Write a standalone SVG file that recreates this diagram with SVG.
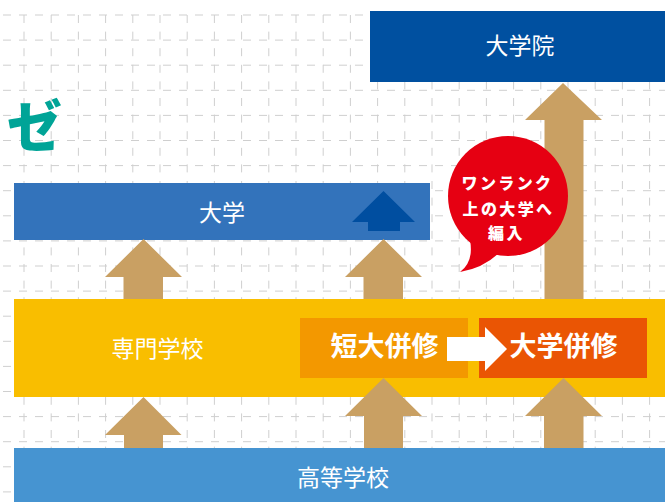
<svg xmlns="http://www.w3.org/2000/svg" width="665" height="502" viewBox="0 0 665 502">
  <style>
    .grid { fill: none; stroke: #cfcfcf; stroke-width: 1; }
    .lbl { font-family: "Noto Sans CJK JP", "Noto Sans", sans-serif; fill: #ffffff; font-size: 23px; text-anchor: middle; }
    .bold { font-weight: bold; font-size: 27px; }
    .bub { font-family: "Noto Sans CJK JP", "Noto Sans", sans-serif; fill: #ffffff; font-weight: 900; font-size: 16px; letter-spacing: 2.4px; text-anchor: middle; }
    .tan { fill: #c9a063; }
  </style>
  <rect x="0" y="0" width="665" height="502" fill="#ffffff"/>
  <g id="grid">
    <path class="grid" stroke-dasharray="8 8" stroke-dashoffset="13" d="M0 15H665M0 40.1H665M0 65.2H665M0 90.3H665M0 115.4H665M0 140.5H665M0 165.6H665M0 190.7H665M0 215.8H665M0 240.9H665M0 266H665M0 291.1H665M0 316.2H665M0 341.3H665M0 366.4H665M0 391.5H665M0 416.6H665M0 441.7H665M0 466.8H665M0 491.9H665"/>
    <path class="grid" stroke-dasharray="8 8.6" d="M24 15V502M51.2 15V502M78.4 15V502M105.6 15V502M132.8 15V502M160 15V502M187.2 15V502M214.4 15V502M241.6 15V502M268.8 15V502M296 15V502M323.2 15V502M350.4 15V502M377.6 15V502M404.8 15V502M432 15V502M459.2 15V502M486.4 15V502M513.6 15V502M540.8 15V502M568 15V502M595.2 15V502M622.4 15V502M649.6 15V502"/>
  </g>
  <g id="logo">
    <text x="7" y="146" font-family="Noto Sans CJK JP, sans-serif" font-weight="900" font-size="55" fill="#00a497">ゼ</text>
  </g>
  <g id="nodes">
    <g id="daigakuin">
      <rect x="370" y="11" width="295" height="71" fill="#0050a0"/>
      <text class="lbl" x="520" y="53.7">大学院</text>
    </g>
    <g id="daigaku">
      <rect x="14" y="183" width="416" height="57" fill="#3373bb"/>
      <text class="lbl" x="222" y="220.7">大学</text>
    </g>
    <g id="senmon">
      <rect x="14" y="299" width="651" height="98" fill="#f9be00"/>
      <text class="lbl" x="157.5" y="356.7">専門学校</text>
    </g>
    <g id="tandai-heishu">
      <rect x="300" y="318" width="168" height="60" fill="#f39800"/>
      <text class="lbl bold" x="384.5" y="356">短大併修</text>
    </g>
    <g id="daigaku-heishu">
      <rect x="479" y="318" width="168" height="60" fill="#ea5504"/>
      <text class="lbl bold" x="563.5" y="356">大学併修</text>
    </g>
    <g id="koutou">
      <rect x="14" y="448" width="651" height="54" fill="#4694d1"/>
      <text class="lbl" x="343" y="486">高等学校</text>
    </g>
  </g>
  <g id="connectors">
    <polygon class="tan" points="563,83 602,120 583.5,120 583.5,299 544.5,299 544.5,120 525,120"/>
    <polygon class="tan" points="143.5,239 182,277 163,277 163,299 123.5,299 123.5,277 105,277"/>
    <polygon class="tan" points="383.5,239 422,277 403,277 403,299 363.5,299 363.5,277 345,277"/>
    <polygon class="tan" points="143.5,397 181.5,435 163,435 163,448 124,448 124,435 105,435"/>
    <polygon class="tan" points="383.5,378 422,416 403,416 403,448 364,448 364,416 345,416"/>
    <polygon class="tan" points="563.5,378 602,416 583.5,416 583.5,448 544,448 544,416 525,416"/>
    <polygon fill="#004ea0" points="383.5,191 415,222 400,222 400,231 368,231 368,222 352,222"/>
    <polygon fill="#ffffff" points="447,337 485,337 485,327 507,349 485,371 485,361 447,361"/>
  </g>
  <g id="bubble">
    <circle cx="508" cy="196" r="60" fill="#e60012"/>
    <path d="M470 240 Q474 262 460 272 Q484 268 500 252 Z" fill="#e60012"/>
    <text class="bub" x="507.5" y="189">ワンランク</text>
    <text class="bub" x="508.5" y="214.5">上の大学へ</text>
    <text class="bub" x="506.5" y="238.5">編入</text>
  </g>
</svg>
